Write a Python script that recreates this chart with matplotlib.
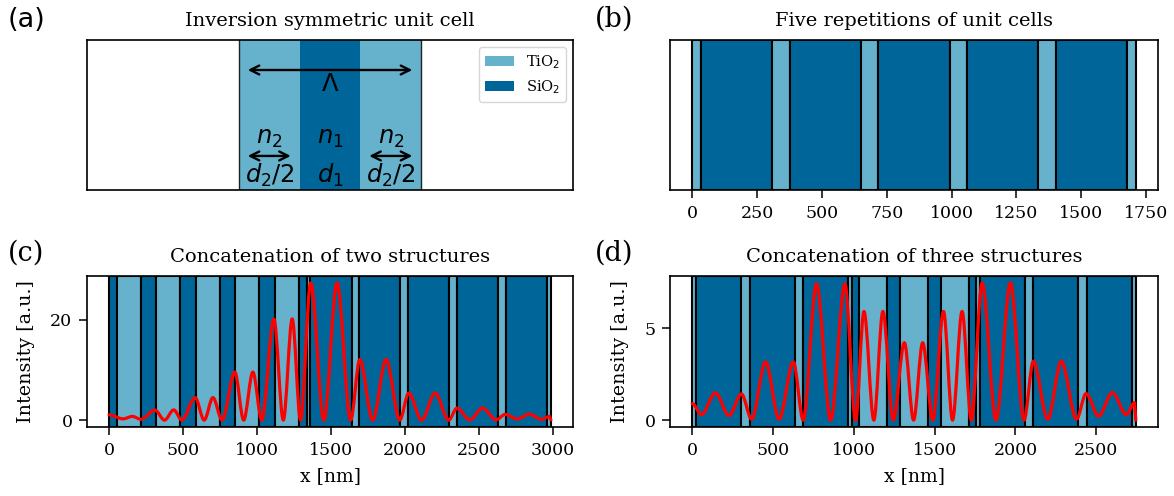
import matplotlib
matplotlib.use("Agg")
import matplotlib.pyplot as plt
from matplotlib.path import Path
from matplotlib.patches import PathPatch, Patch

plt.rcParams['font.family'] = ['DejaVu Serif']

# ---------------- data ----------------
TIO2_COLOR = '#66b2cc'
SIO2_COLOR = '#006699'
legend_labels = ['TiO$_2$', 'SiO$_2$']

# (a) schematic unit cell (arbitrary units): d2/2, d1, d2/2
cell_a_thick = [1.0, 1.0, 1.0]
cell_a_mat = ['TiO2', 'SiO2', 'TiO2']

# (b) unit cell (nm): TiO2 d2/2, SiO2 d1, TiO2 d2/2, five repetitions
cell_b_thick = [34, 274, 34]
cell_b_mat = ['TiO2', 'SiO2', 'TiO2']
reps_b = 5

# structure A (SiO2 d1/2, TiO2 d2, SiO2 d1/2) and structure B (TiO2 d2/2, SiO2 d1, TiO2 d2/2)
cell_A_c = [52, 163, 52]
cell_A_d = [40, 175, 40]
cell_A_mat = ['SiO2', 'TiO2', 'SiO2']
cell_B_cd = [26, 278, 26]
cell_B_mat = ['TiO2', 'SiO2', 'TiO2']
reps_c = [5, 5]          # A, B
reps_d = [3, 3, 3]       # B, A, B

# intensity extrema (x in nm, intensity in a.u.)
c_x = [0, 95, 158, 215, 310, 375, 437, 492, 582, 643, 702, 764, 850, 910, 972,
       1032, 1114, 1178, 1238, 1294, 1363, 1452, 1541, 1633, 1695, 1782, 1873,
       1965, 2026, 2113, 2204, 2296, 2352, 2438, 2525, 2617, 2678, 2760, 2840,
       2925, 2978, 2987]
c_y = [1.05, 0.25, 0.75, 0.15, 2.0, 0.0, 2.05, 0.0, 4.5, 0.0, 4.5, 0.0, 9.6, 0.0,
       9.6, 0.0, 20.2, 0.0, 20.2, 0.0, 27.4, 0.0, 27.4, 0.0, 12.1, 0.0, 12.1,
       0.0, 5.4, 0.0, 5.4, 0.0, 2.4, 0.05, 2.4, 0.05, 1.15, 0.2, 1.2, 0.15,
       0.75, 0.05]

d_x = [0, 58, 143, 228, 305, 368, 454, 538, 626, 687, 769, 857, 945, 1011, 1063,
       1124, 1180, 1244, 1313, 1370, 1426, 1489, 1555, 1611, 1670, 1727, 1794,
       1880, 1969, 2053, 2111, 2200, 2284, 2378, 2437, 2515, 2600, 2686, 2737,
       2745]
d_y = [0.9, 0.3, 1.48, 0.25, 1.42, 0.05, 3.16, 0.05, 3.16, 0.0, 7.4, 0.0, 7.4,
       0.0, 5.9, 0.0, 5.9, 0.0, 4.2, 0.0, 4.2, 0.0, 5.9, 0.0, 5.9, 0.0, 7.45,
       0.0, 7.45, 0.0, 3.2, 0.05, 3.2, 0.05, 1.44, 0.22, 1.5, 0.3, 0.95, 0.0]

COLORS = {'TiO2': TIO2_COLOR, 'SiO2': SIO2_COLOR}


def build_layers(blocks):
    """blocks: list of (thicknesses, materials, repetitions); merges equal neighbours."""
    layers = []
    pos = 0.0
    for thick, mats, n in blocks:
        for _ in range(n):
            for t, m in zip(thick, mats):
                if layers and layers[-1][2] == m:
                    layers[-1][1] = pos + t
                else:
                    layers.append([pos, pos + t, m])
                pos += t
    return layers


def draw_layers(ax, layers, lw=1.5, edge='black'):
    for x0, x1, m in layers:
        ax.axvspan(x0, x1, facecolor=COLORS[m], edgecolor=edge, linewidth=lw, zorder=1)


def smooth_curve(ax, xs, ys):
    verts = [(xs[0], ys[0])]
    codes = [Path.MOVETO]
    n = len(xs)
    for i in range(n - 1):
        x0, y0, x1, y1 = xs[i], ys[i], xs[i + 1], ys[i + 1]
        if i == n - 2:
            verts.append((x1, y1))
            codes.append(Path.LINETO)
        else:
            dx = x1 - x0
            verts += [(x0 + dx / 3, y0), (x1 - dx / 3, y1), (x1, y1)]
            codes += [Path.CURVE4] * 3
    patch = PathPatch(Path(verts, codes), facecolor='none', edgecolor='red',
                      linewidth=2.3, zorder=3, capstyle='round', joinstyle='round')
    ax.add_patch(patch)


fig = plt.figure(figsize=(11.74, 4.96), dpi=100)
W, H = 1174, 496


def axes_px(x0, x1, y0, y1):
    return fig.add_axes([x0 / W, 1 - y1 / H, (x1 - x0) / W, (y1 - y0) / H])


FS = 12.5        # tick labels
XLFS = 13.5      # x labels
YLFS = 13.8      # y labels
TFS = 14         # titles
TPAD = 10
LEFT = (87, 573)
RIGHT = (670, 1158)
TOP = (40, 190)
BOT = (276, 427)


def style_ticks(ax):
    ax.tick_params(labelsize=FS, length=5.5, width=1.1, pad=5)


# (a)
ax_a = axes_px(LEFT[0], LEFT[1], TOP[0], TOP[1])
pos = 0.0
for t, m in zip(cell_a_thick, cell_a_mat):
    ax_a.axvspan(pos, pos + t, facecolor=COLORS[m], edgecolor='none', zorder=1)
    pos += t
ax_a.axvline(0, color='#222222', lw=1.0, zorder=2)
ax_a.axvline(pos, color='#222222', lw=1.0, zorder=2)
ax_a.set_xlim(-2.5, 5.5)
ax_a.set_ylim(0, 1)
ax_a.set_xticks([])
ax_a.set_yticks([])
arrow = dict(arrowstyle='<->', color='black', lw=1.7, mutation_scale=16)
ax_a.annotate('', xy=(0.1, 0.80), xytext=(2.9, 0.80), arrowprops=arrow)
ax_a.annotate('', xy=(0.1, 0.227), xytext=(0.9, 0.227), arrowprops=arrow)
ax_a.annotate('', xy=(2.1, 0.227), xytext=(2.9, 0.227), arrowprops=arrow)
mfs = 17.5
ax_a.text(1.5, 0.705, r'$\Lambda$', ha='center', va='center', fontsize=mfs)
ax_a.text(0.5, 0.34, r'$n_2$', ha='center', va='center', fontsize=mfs)
ax_a.text(1.5, 0.34, r'$n_1$', ha='center', va='center', fontsize=mfs)
ax_a.text(2.5, 0.34, r'$n_2$', ha='center', va='center', fontsize=mfs)
ax_a.text(0.5, 0.095, r'$d_2/2$', ha='center', va='center', fontsize=mfs)
ax_a.text(1.5, 0.095, r'$d_1$', ha='center', va='center', fontsize=mfs)
ax_a.text(2.5, 0.095, r'$d_2/2$', ha='center', va='center', fontsize=mfs)
handles = [Patch(facecolor=TIO2_COLOR, label=legend_labels[0]),
           Patch(facecolor=SIO2_COLOR, label=legend_labels[1])]
ax_a.legend(handles=handles, loc='upper right', fontsize=10.5, handlelength=2.0)
ax_a.set_title('Inversion symmetric unit cell', fontsize=TFS, pad=TPAD)

# (b)
ax_b = axes_px(RIGHT[0], RIGHT[1], TOP[0], TOP[1])
draw_layers(ax_b, build_layers([(cell_b_thick, cell_b_mat, reps_b)]))
ax_b.set_yticks([])
style_ticks(ax_b)
ax_b.set_title('Five repetitions of unit cells', fontsize=TFS, pad=TPAD)

# (c)
ax_c = axes_px(LEFT[0], LEFT[1], BOT[0], BOT[1])
draw_layers(ax_c, build_layers([(cell_A_c, cell_A_mat, reps_c[0]),
                                (cell_B_cd, cell_B_mat, reps_c[1])]))
smooth_curve(ax_c, c_x, c_y)
ax_c.autoscale_view()
ax_c.set_xticks([0, 500, 1000, 1500, 2000, 2500, 3000])
ax_c.set_yticks([0, 20])
style_ticks(ax_c)
ax_c.set_xlabel('x [nm]', fontsize=XLFS, labelpad=6)
ax_c.set_ylabel('Intensity [a.u.]', fontsize=YLFS, labelpad=11)
ax_c.set_title('Concatenation of two structures', fontsize=TFS, pad=TPAD)

# (d)
ax_d = axes_px(RIGHT[0], RIGHT[1], BOT[0], BOT[1])
draw_layers(ax_d, build_layers([(cell_B_cd, cell_B_mat, reps_d[0]),
                                (cell_A_d, cell_A_mat, reps_d[1]),
                                (cell_B_cd, cell_B_mat, reps_d[2])]))
smooth_curve(ax_d, d_x, d_y)
ax_d.autoscale_view()
ax_d.set_xticks([0, 500, 1000, 1500, 2000, 2500])
ax_d.set_yticks([0, 5])
style_ticks(ax_d)
ax_d.set_xlabel('x [nm]', fontsize=XLFS, labelpad=6)
ax_d.set_ylabel('Intensity [a.u.]', fontsize=YLFS, labelpad=11)
ax_d.set_title('Concatenation of three structures', fontsize=TFS, pad=TPAD)

for ax in (ax_a, ax_b, ax_c, ax_d):
    for s in ax.spines.values():
        s.set_linewidth(1.2)
        s.set_zorder(4)

fig.text(8 / W, 1 - 27 / H, '(a)', fontsize=19.5, family='DejaVu Sans')
fig.text(595 / W, 1 - 27 / H, '(b)', fontsize=19.5)
fig.text(8 / W, 1 - 261 / H, '(c)', fontsize=19.5)
fig.text(595 / W, 1 - 261 / H, '(d)', fontsize=19.5)

fig.savefig('out.png', dpi=100)
